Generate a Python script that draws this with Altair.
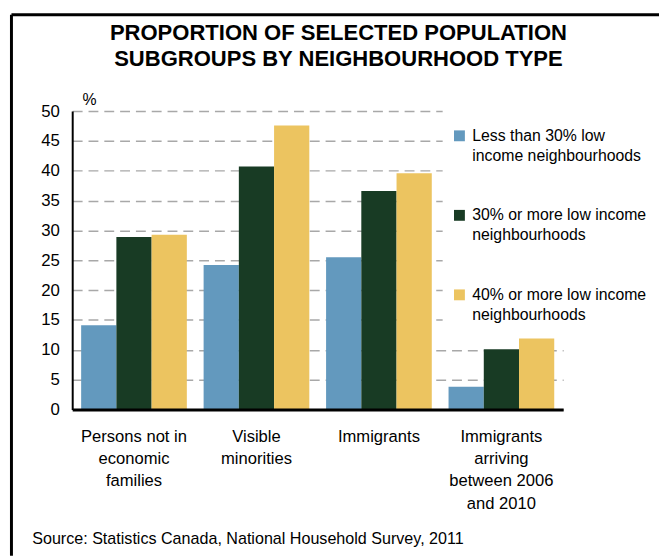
import altair as alt
import pandas as pd

categories = ["Persons not in|economic|families", "Visible|minorities", "Immigrants",
              "Immigrants|arriving|between 2006|and 2010"]
series = ["Less than 30% low|income neighbourhoods",
          "30% or more low income|neighbourhoods",
          "40% or more low income|neighbourhoods"]
less_30 = [14.1, 24.2, 25.5, 3.8]
more_30 = [28.9, 40.7, 36.6, 10.1]
more_40 = [29.3, 47.6, 39.6, 11.9]
colors = ["#6399BE", "#183B24", "#ECC460"]
y_ticks = [0, 5, 10, 15, 20, 25, 30, 35, 40, 45, 50]
title_lines = ["PROPORTION OF SELECTED POPULATION", "SUBGROUPS BY NEIGHBOURHOOD TYPE"]
source = "Source: Statistics Canada, National Household Survey, 2011"

rows = []
for s, vals in zip(series, [less_30, more_30, more_40]):
    for c, v in zip(categories, vals):
        rows.append({"category": c, "series": s, "value": v})
df = pd.DataFrame(rows)

W, H = 497, 302
PAD = {"left": 65, "top": 101, "right": 97, "bottom": 148}
FONT = "Liberation Sans"

bars = alt.Chart(df).mark_bar().encode(
    x=alt.X("category:N", sort=categories,
            scale=alt.Scale(paddingInner=0.137, paddingOuter=0.073),
            axis=alt.Axis(title=source, labelExpr="split(datum.label, '|')",
                          labelAngle=0, labelFontSize=16.8, labelColor="black",
                          labelLineHeight=22.7, labelPadding=19, labelBaseline="top",
                          ticks=False, domainColor="black", domainWidth=3,
                          zindex=1, titleX=-41, titleY=136, titleAlign="left",
                          titleAnchor="start", titleBaseline="alphabetic",
                          titleFontSize=16.3, titleFontWeight="normal",
                          titleColor="black")),
    xOffset=alt.XOffset("series:N", sort=series,
                        scale=alt.Scale(paddingInner=0, paddingOuter=0)),
    y=alt.Y("value:Q", scale=alt.Scale(domain=[0, 50], nice=False),
            axis=alt.Axis(values=y_ticks, title="%", titleAngle=0, titleX=10,
                          titleY=-7, titleAlign="left", titleBaseline="alphabetic",
                          titleFontSize=16, titleFontWeight="normal", titleColor="black",
                          labelFontSize=17, labelColor="black", labelPadding=13,
                          ticks=False, domainColor="black", domainWidth=2,
                          grid=True, gridColor="#A8A8A8", gridDash=[10, 6],
                          gridWidth=1.5)),
    color=alt.Color("series:N", sort=series,
                    scale=alt.Scale(domain=series, range=colors),
                    legend=alt.Legend(orient="none", legendX=375, legendY=-11,
                                      title=" ", titleFontSize=12, titlePadding=7,
                                      direction="vertical", symbolType="square",
                                      symbolSize=121, symbolStrokeWidth=0,
                                      symbolOpacity=1, labelFontSize=16,
                                      labelColor="black", labelLimit=400,
                                      labelExpr="split(datum.label, '|')",
                                      rowPadding=44.5, fillColor="white", padding=9,
                                      labelBaseline="middle", labelOffset=5)),
)

one = pd.DataFrame({"k": [0]})
frame_v = alt.Chart(one).mark_rule(color="black", strokeWidth=3).encode(
    x=alt.value(-61.5), y=alt.value(-97.5), y2=alt.value(H + PAD["bottom"]))
frame_h = alt.Chart(one).mark_rule(color="black", strokeWidth=3).encode(
    x=alt.value(-61.5), x2=alt.value(W + PAD["right"]), y=alt.value(-97.5))

chart = alt.layer(bars, frame_v, frame_h).properties(
    width=W, height=H,
    autosize=alt.AutoSizeParams(type="none"),
    padding=PAD,
    title=alt.TitleParams(text=title_lines, fontSize=22.3, fontWeight="bold",
                          anchor="middle", dx=21, dy=74, offset=16, lineHeight=27,
                          color="black", font=FONT),
).configure(font=FONT, style={"guide-label": {"lineHeight": 20}}).configure_view(stroke=None)

chart.save("out.html", embed_options={"renderer": "svg", "actions": False})
